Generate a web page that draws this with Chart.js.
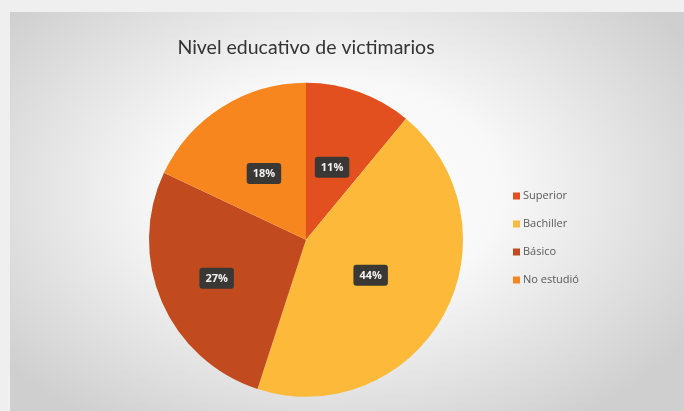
<!DOCTYPE html>
<html>
<head>
<meta charset="utf-8">
<script src="https://cdn.jsdelivr.net/npm/chart.js@4/dist/chart.umd.min.js"></script>
<style>
  html, body { margin: 0; padding: 0; width: 684px; height: 411px; overflow: hidden; background: #efefef; }
  #card {
    position: absolute; left: 10px; top: 12px; width: 674px; height: 399px;
    background: radial-gradient(ellipse 62% 70% at 48% 45%, #ffffff 0%, #f8f8f8 40%, #cfcfcf 100%);
  }
  canvas { display: block; }
</style>
</head>
<body>
<div id="card"><canvas id="chart" width="674" height="399"></canvas></div>
<script>
// Nivel educativo de victimarios (porcentaje por categoría)
const categories = ['Superior', 'Bachiller', 'Básico', 'No estudió'];
const percentages = [11, 44, 27, 18];
const sliceColors = ['#e2501f', '#fdb93a', '#c14a1f', '#f7861f'];

// Dark boxed value labels inside each slice
const sliceLabels = {
  id: 'sliceLabels',
  afterDatasetsDraw(chart, args, opts) {
    const ctx = chart.ctx;
    const meta = chart.getDatasetMeta(0);
    const values = chart.data.datasets[0].data;
    ctx.save();
    ctx.font = 'bold 11px "Open Sans", sans-serif';
    ctx.textAlign = 'center';
    ctx.textBaseline = 'middle';
    meta.data.forEach((arc, i) => {
      const p = arc.getProps(['x', 'y', 'startAngle', 'endAngle', 'outerRadius'], true);
      const mid = (p.startAngle + p.endAngle) / 2;
      const r = p.outerRadius * opts.radiusFactor[i];
      const cx = p.x + Math.cos(mid) * r;
      const cy = p.y + Math.sin(mid) * r;
      const text = values[i] + '%';
      const w = ctx.measureText(text).width + 12;
      const h = 21;
      ctx.fillStyle = '#3a3835';
      ctx.beginPath();
      ctx.roundRect(cx - w / 2, cy - h / 2, w, h, 3);
      ctx.fill();
      ctx.fillStyle = '#f2f2f2';
      ctx.fillText(text, cx, cy + 0.5);
    });
    ctx.restore();
  }
};

// Vertical legend to the right of the pie
const sideLegend = {
  id: 'sideLegend',
  afterDraw(chart, args, opts) {
    const ctx = chart.ctx;
    const colors = chart.data.datasets[0].backgroundColor;
    ctx.save();
    ctx.font = '11px "Open Sans", sans-serif';
    ctx.textBaseline = 'middle';
    ctx.textAlign = 'left';
    chart.data.labels.forEach((label, i) => {
      const y = opts.top + i * opts.step;
      ctx.fillStyle = colors[i];
      ctx.fillRect(opts.left, y - 3.5, 7, 7);
      ctx.fillStyle = '#595959';
      ctx.fillText(label, opts.left + 10, y);
    });
    ctx.restore();
  }
};

new Chart(document.getElementById('chart'), {
  type: 'pie',
  data: {
    labels: categories,
    datasets: [{
      data: percentages,
      backgroundColor: sliceColors,
      borderWidth: 0,
      radius: 157
    }]
  },
  options: {
    responsive: false,
    animation: false,
    events: [],
    layout: { padding: { left: 0, right: 82, top: 0, bottom: 1 } },
    plugins: {
      legend: { display: false },
      tooltip: { enabled: false },
      title: {
        display: true,
        text: 'Nivel educativo de victimarios',
        fullSize: false,
        color: '#333333',
        font: { family: 'Lato', size: 19.5, weight: 'normal' },
        padding: { top: 24, bottom: 10 }
      },
      sliceLabels: { radiusFactor: [0.49, 0.47, 0.62, 0.5] },
      sideLegend: { left: 503, top: 184, step: 28 }
    }
  },
  plugins: [sliceLabels, sideLegend]
});
</script>
</body>
</html>
